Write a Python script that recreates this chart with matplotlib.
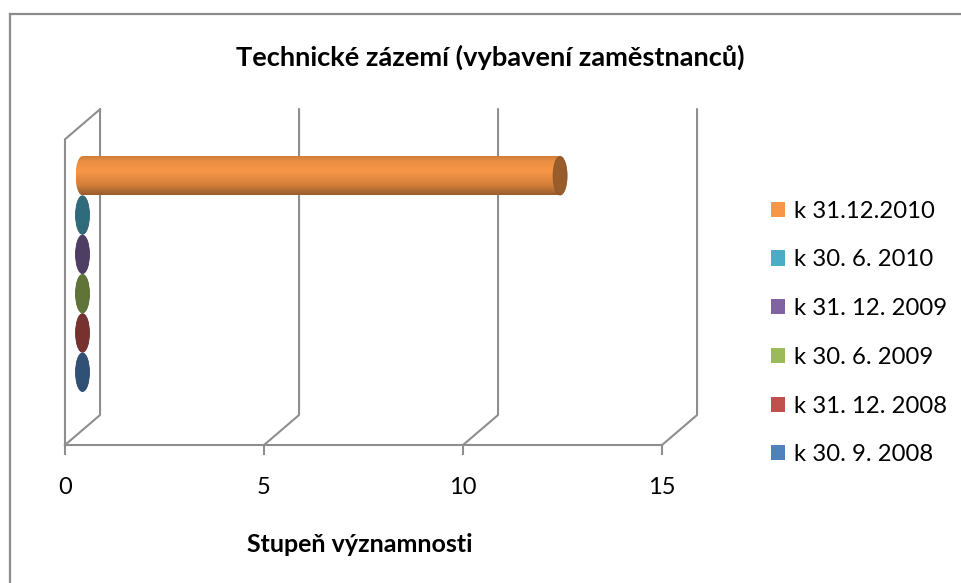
import numpy as np
import matplotlib
matplotlib.use("Agg")
from matplotlib import pyplot as plt
from matplotlib.patches import Ellipse, Rectangle, Patch
from matplotlib.lines import Line2D

plt.rcParams['font.family'] = ['Lato', 'DejaVu Sans']

# Data (bottom to top as drawn)
series_names = ["k 30. 9. 2008", "k 31. 12. 2008", "k 30. 6. 2009",
                "k 31. 12. 2009", "k 30. 6. 2010", "k 31.12.2010"]
series_values = [0, 0, 0, 0, 0, 12]
series_colors = ["#4f81bd", "#c0504d", "#9bbb59", "#8064a2", "#4bacc6", "#f79646"]
x_ticks = [0, 5, 10, 15]
title = "Technické zázemí (vybavení zaměstnanců)"
x_label = "Stupeň významnosti"

# 3D look
DX, DY = 0.88, 0.763      # depth offset of the back wall (data units)
TOP = 7.78                 # height of the front wall
EW = 0.35                  # ellipse width of cylinder ends
GRID = "#8e8e8e"

W, H = 962, 583
fig = plt.figure(figsize=(W / 100, H / 100), dpi=100)
ax = fig.add_axes([40 / W, (H - 470) / H, 680 / W, 370 / H])
ax.set_xlim(-0.628, 16.457)
ax.set_ylim(-0.636, 8.779)
ax.axis("off")

# walls / gridlines
for v in x_ticks:
    ax.plot([v, v + DX, v + DX], [0, DY, TOP + DY], color=GRID, lw=1.5, zorder=1)
    ax.plot([v, v], [0, -0.23], color=GRID, lw=1.5, zorder=1, clip_on=False)
ax.plot([0, 0, DX], [0, TOP, TOP + DY], color=GRID, lw=1.5, zorder=1)
ax.plot([0, x_ticks[-1]], [0, 0], color=GRID, lw=1.5, zorder=1)

for v in x_ticks:
    ax.text(v, -1.09, str(v), ha="center", va="center", fontsize=17, clip_on=False)


def shade(color, f):
    rgb = np.array(matplotlib.colors.to_rgb(color))
    return np.clip(rgb * f, 0, 1)


# cylinders
x0 = DX / 2
h = 1.0
t = np.linspace(0, 1, 64)
fac = np.interp(t, [0, 0.25, 0.6, 0.85, 1.0], [0.62, 0.85, 1.0, 0.95, 0.82])
for i, (val, col) in enumerate(zip(series_values, series_colors)):
    yc = 1.47 + i + DY / 2
    if val > 0:
        grad = np.array([[shade(col, f)] for f in fac[::-1]])
        for clip in (Rectangle((x0, yc - h / 2), val, h, transform=ax.transData),
                     Ellipse((x0, yc), EW, h, transform=ax.transData)):
            im = ax.imshow(grad, extent=[x0 - EW / 2, x0 + val, yc - h / 2, yc + h / 2],
                           aspect="auto", zorder=3, interpolation="bilinear")
            im.set_clip_path(clip)
    ax.add_patch(Ellipse((x0 + val, yc), EW, h * 0.98, facecolor=shade(col, 0.62),
                         edgecolor=shade(col, 0.55), lw=0.6, zorder=4))

ax.set_xlim(-0.628, 16.457)
ax.set_ylim(-0.636, 8.779)

# legend
handles = [Patch(facecolor=c, edgecolor="none") for c in series_colors][::-1]
fig.legend(handles, series_names[::-1], loc="center left",
           bbox_to_anchor=(771 / W, 1 - 333 / H), frameon=False, fontsize=17.2,
           handlelength=0.6, handleheight=0.6, handletextpad=0.35,
           labelspacing=1.16, borderpad=0, borderaxespad=0)

fig.text(490 / W, 1 - 57 / H, title, ha="center", va="center", fontsize=19.6, fontweight="bold")
fig.text(360 / W, 1 - 545 / H, x_label, ha="center", va="center", fontsize=18, fontweight="bold")

# outer border (top and left only)
fig.add_artist(Line2D([10 / W, 1], [1 - 14 / H, 1 - 14 / H], color="#8c8c8c", lw=1.6,
                      transform=fig.transFigure))
fig.add_artist(Line2D([10 / W, 10 / W], [0, 1 - 14 / H], color="#8c8c8c", lw=1.6,
                      transform=fig.transFigure))

fig.savefig("out.png", dpi=100, facecolor="white")
